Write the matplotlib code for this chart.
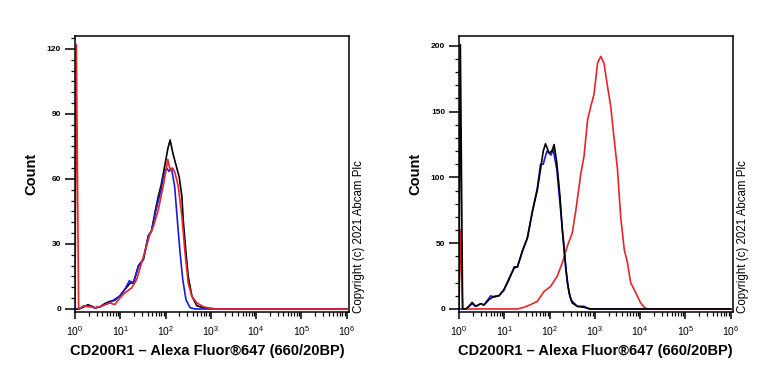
import numpy as np
import matplotlib.pyplot as plt
from matplotlib.ticker import MultipleLocator, LogLocator, FixedLocator

plt.rcParams['font.family'] = ['Liberation Sans', 'DejaVu Sans']
plt.rcParams['mathtext.fontset'] = 'custom'
plt.rcParams['mathtext.rm'] = 'Liberation Sans'
plt.rcParams['mathtext.it'] = 'Liberation Sans'

# интенсивность в декадах (log10), отсчёты
# левая гистограмма
left_black_d = [0.0, 0.09, 0.2, 0.29, 0.36, 0.44, 0.55, 0.66, 0.77, 0.88, 0.99, 1.1, 1.22, 1.29, 1.4,
                1.51, 1.62, 1.69, 1.77, 1.84, 1.9, 1.99, 2.05, 2.1, 2.16, 2.21, 2.3, 2.36, 2.39, 2.45,
                2.5, 2.58, 2.69, 2.84, 3.13, 6.0]
left_black_y = [0, 0, 1, 2, 1, 0.5, 1, 2.5, 3.5, 4, 6, 9, 12, 12, 19.7, 22.8, 33.5, 36, 45, 52, 57,
                67, 74, 78, 72, 68, 61, 52, 41, 26, 15, 6, 1.5, 0.5, 0, 0]

left_blue_d = [0.0, 0.09, 0.2, 0.29, 0.36, 0.44, 0.55, 0.66, 0.77, 0.88, 0.99, 1.1, 1.2, 1.29, 1.4,
               1.51, 1.62, 1.69, 1.77, 1.84, 1.9, 1.96, 2.02, 2.08, 2.13, 2.2, 2.26, 2.32, 2.38, 2.45,
               2.54, 2.65, 6.0]
left_blue_y = [0, 0, 1.5, 1.5, 1.5, 0.5, 1, 2, 3, 4.5, 6, 9, 13, 12, 20, 23, 34, 36, 44, 50, 55, 62,
               65, 63.5, 65, 56.6, 41, 26, 13.5, 4.3, 0.6, 0, 0]

left_red_d = [0.0, 0.03, 0.08, 0.2, 0.29, 0.36, 0.44, 0.55, 0.66, 0.77, 0.88, 0.99, 1.1, 1.25, 1.36,
              1.51, 1.66, 1.73, 1.84, 1.95, 2.05, 2.1, 2.16, 2.21, 2.28, 2.36, 2.43, 2.5, 2.58, 2.69,
              2.84, 3.06, 6.0]
left_red_y = [0, 122, 0, 1.5, 1, 1, 0.5, 1, 2, 2.8, 2, 5, 7.4, 9.7, 13.5, 24, 35, 38, 45.8, 57, 69,
              64, 65, 62.7, 56.6, 42.8, 25.8, 12, 5.8, 2.8, 1, 0, 0]

# правая гистограмма
right_black_d = [0.0, 0.03, 0.08, 0.15, 0.22, 0.29, 0.37, 0.48, 0.55, 0.66, 0.77, 0.88, 0.99, 1.1,
                 1.22, 1.29, 1.4, 1.51, 1.62, 1.73, 1.8, 1.86, 1.91, 1.99, 2.05, 2.1, 2.16, 2.23,
                 2.28, 2.36, 2.43, 2.5, 2.61, 2.76, 2.91, 6.0]
right_black_y = [0, 201, 0, 0, 2, 5, 2, 4, 3, 7, 9.6, 10, 14.7, 22, 32, 32, 44, 54, 74, 90.6, 106,
                 120, 125.6, 118.5, 120, 125, 111, 85.6, 60, 30, 12, 4.6, 2, 1.3, 0, 0]

right_blue_d = [0.0, 0.08, 0.15, 0.22, 0.29, 0.37, 0.48, 0.55, 0.7, 0.77, 0.88, 0.99, 1.1, 1.22,
                1.29, 1.4, 1.51, 1.62, 1.73, 1.8, 1.86, 1.94, 2.03, 2.08, 2.16, 2.23, 2.32, 2.39,
                2.47, 2.61, 2.76, 2.87, 6.0]
right_blue_y = [0, 0, 0, 2, 4, 2, 4, 3, 10, 9, 10, 14, 23, 31, 32, 44, 54, 74, 92, 110, 110, 120,
                117, 121, 106, 80, 47.6, 20, 7, 2, 2, 0, 0]

right_red_d = [0.0, 0.03, 0.08, 1.07, 1.29, 1.44, 1.58, 1.73, 1.88, 2.02, 2.17, 2.28, 2.39, 2.5,
               2.58, 2.69, 2.76, 2.84, 2.91, 2.98, 3.06, 3.13, 3.2, 3.28, 3.35, 3.42, 3.5, 3.57,
               3.65, 3.72, 3.79, 3.87, 3.94, 4.01, 4.09, 4.16, 6.0]
right_red_y = [0, 60, 0, 0, 0, 1.3, 3.3, 5.8, 13.4, 17, 25, 35, 47.6, 57.7, 75, 103, 116, 144, 154,
               163, 187, 192, 187, 169, 154, 131, 106, 70, 45, 35, 20, 14.7, 9.6, 4.6, 1.3, 0, 0]

x_label = 'CD200R1 – Alexa Fluor®647 (660/20BP)'
copyright_text = 'Copyright (c) 2021 Abcam Plc'

c_black = '#000000'
c_blue = '#1c1ad6'
c_red = '#e8242a'

fig = plt.figure(figsize=(7.68, 3.84), dpi=100)
ax1 = fig.add_axes([75 / 768, 72 / 384, 274 / 768, 276 / 384])
ax2 = fig.add_axes([459 / 768, 72 / 384, 274 / 768, 276 / 384])


def draw(ax, curves, ylim, ystep, yminor, xlab_x):
    for d, y, c in curves:
        ax.plot(10 ** np.array(d), y, color=c, lw=1.2, solid_joinstyle='round')
    ax.set_xscale('log')
    ax.set_xlim(1, 10 ** 6.05)
    ax.set_ylim(*ylim)
    ax.xaxis.set_major_locator(FixedLocator([10.0 ** k for k in range(7)]))
    ax.xaxis.set_minor_locator(LogLocator(base=10, subs=np.arange(2, 10), numticks=20))
    ax.set_xticklabels([r'$10^{%d}$' % k for k in range(7)])
    ax.yaxis.set_major_locator(MultipleLocator(ystep))
    ax.yaxis.set_minor_locator(MultipleLocator(yminor))
    ax.tick_params(axis='x', which='major', length=5, width=1.1, labelsize=7.5, pad=4)
    ax.tick_params(axis='x', which='minor', length=3, width=0.9)
    ax.tick_params(axis='y', which='major', length=7, width=1.1, labelsize=6, pad=3)
    ax.tick_params(axis='y', which='minor', length=3, width=0.9)
    for lbl in ax.get_yticklabels():
        lbl.set_fontweight('bold')
    for s in ax.spines.values():
        s.set_linewidth(1.1)
    ax.set_ylabel('Count', fontsize=10.5, fontweight='bold')
    ax.yaxis.set_label_coords(-0.135, 0.5)
    ax.set_xlabel(x_label, fontsize=10.5, fontweight='bold')
    ax.xaxis.set_label_coords(xlab_x, -0.115)
    ax.text(1.036, -0.005, copyright_text, transform=ax.transAxes, rotation=90,
            ha='center', va='bottom', fontsize=8.3)


draw(ax1, [(left_black_d, left_black_y, c_black),
           (left_blue_d, left_blue_y, c_blue),
           (left_red_d, left_red_y, c_red)],
     (-1.4, 126), 30, 5, 0.484)
draw(ax2, [(right_blue_d, right_blue_y, c_blue),
           (right_red_d, right_red_y, c_red),
           (right_black_d, right_black_y, c_black)],
     (-2.3, 207.5), 50, 10, 0.496)

plt.savefig('out.png', dpi=100)
